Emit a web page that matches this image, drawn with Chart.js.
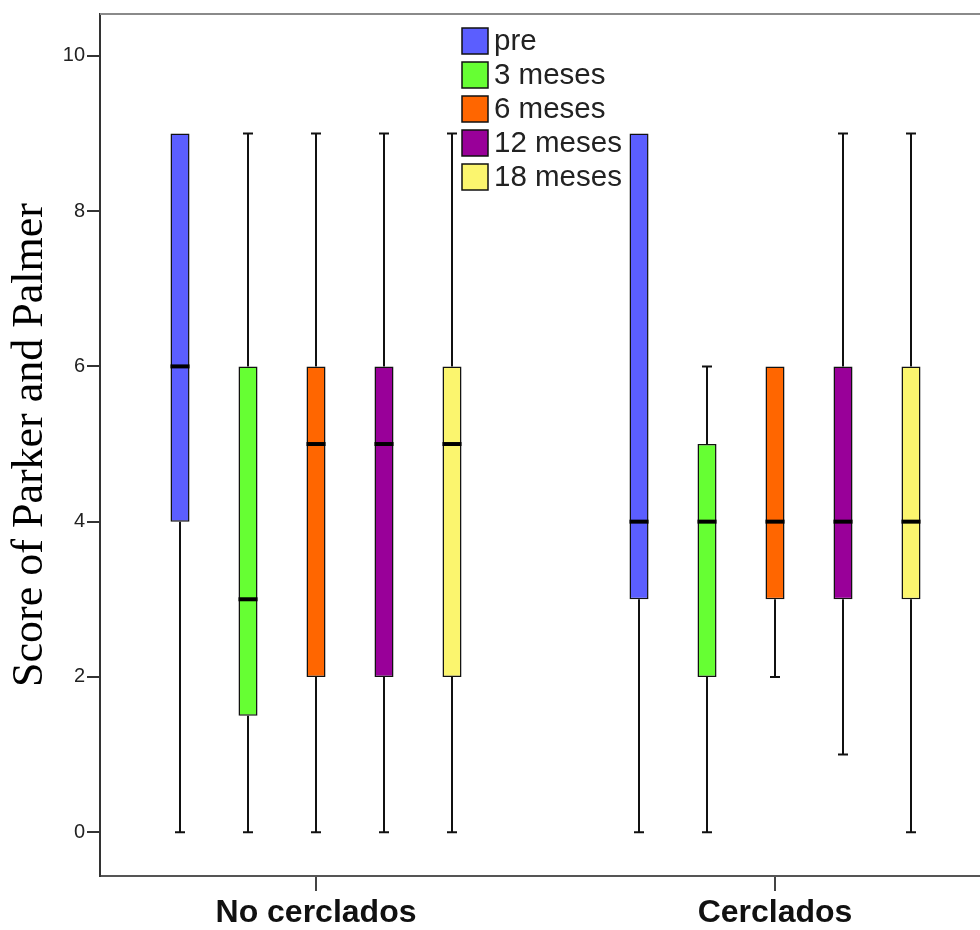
<!DOCTYPE html>
<html>
<head>
<meta charset="utf-8">
<title>Score of Parker and Palmer</title>
<script src="https://cdn.jsdelivr.net/npm/chart.js@4/dist/chart.umd.min.js"></script>
<style>
  html, body { margin: 0; padding: 0; background: #fff; overflow: hidden; }
  #wrap { width: 980px; height: 930px; }
</style>
</head>
<body>
<div id="wrap"><canvas id="box-chart" width="980" height="930"></canvas></div>
<script>
(function () {
  const groups = ["No cerclados", "Cerclados"];
  const periods = ["pre", "3 meses", "6 meses", "12 meses", "18 meses"];
  const colors = ["#5b5eff", "#66ff33", "#ff6600", "#990099", "#fbf56e"];
  const yTicks = [0, 2, 4, 6, 8, 10];

  // one array per period, values for [No cerclados, Cerclados]
  const mins =    [[0, 0],   [0, 0], [0, 2], [0, 1], [0, 0]];
  const q1s =     [[4, 3], [1.5, 2], [2, 3], [2, 3], [2, 3]];
  const medians = [[6, 4],   [3, 4], [5, 4], [5, 4], [5, 4]];
  const q3s =     [[9, 9],   [6, 5], [6, 6], [6, 6], [6, 6]];
  const maxs =    [[9, 9],   [9, 6], [9, 6], [9, 9], [9, 9]];

  const boxPlot = {
    id: "boxPlot",
    beforeDatasetsDraw(chart) {
      const ctx = chart.ctx;
      const y = chart.scales.y;
      ctx.save();
      ctx.strokeStyle = "#111";
      ctx.lineWidth = 2;
      chart.data.datasets.forEach((ds, di) => {
        chart.getDatasetMeta(di).data.forEach((bar, i) => {
          const x = Math.round(bar.x);
          const pts = [[q3s[di][i], maxs[di][i]], [q1s[di][i], mins[di][i]]];
          pts.forEach(([from, to]) => {
            if (from === to) return;
            const y0 = y.getPixelForValue(from);
            const y1 = y.getPixelForValue(to);
            ctx.beginPath();
            ctx.moveTo(x, y0);
            ctx.lineTo(x, y1);
            ctx.moveTo(x - 5, y1);
            ctx.lineTo(x + 5, y1);
            ctx.stroke();
          });
        });
      });
      ctx.restore();
    },
    afterDatasetsDraw(chart) {
      const ctx = chart.ctx;
      const y = chart.scales.y;
      ctx.save();
      ctx.strokeStyle = "#000";
      ctx.lineWidth = 4;
      chart.data.datasets.forEach((ds, di) => {
        chart.getDatasetMeta(di).data.forEach((bar, i) => {
          const ym = y.getPixelForValue(medians[di][i]);
          ctx.beginPath();
          ctx.moveTo(bar.x - bar.width / 2, ym);
          ctx.lineTo(bar.x + bar.width / 2, ym);
          ctx.stroke();
        });
      });
      // top frame line
      const a = chart.chartArea;
      ctx.strokeStyle = "#8a8a8a";
      ctx.lineWidth = 2;
      ctx.beginPath();
      ctx.moveTo(a.left, a.top);
      ctx.lineTo(a.right, a.top);
      ctx.stroke();
      ctx.restore();
    },
    afterDraw(chart) {
      // legend inside the plot
      const ctx = chart.ctx;
      const left = chart.chartArea.left + 362;
      const top = 28;
      ctx.save();
      ctx.font = "29.5px 'Liberation Sans', Arial, sans-serif";
      ctx.textBaseline = "middle";
      chart.data.datasets.forEach((ds, i) => {
        const cy = top + i * 34;
        ctx.fillStyle = ds.backgroundColor;
        ctx.fillRect(left, cy, 26, 26);
        ctx.strokeStyle = "#111";
        ctx.lineWidth = 1.5;
        ctx.strokeRect(left, cy, 26, 26);
        ctx.fillStyle = "#222";
        ctx.fillText(ds.label, left + 32, cy + 14);
      });
      ctx.restore();
    }
  };

  new Chart(document.getElementById("box-chart"), {
    type: "bar",
    data: {
      datasets: periods.map((p, di) => ({
        label: p,
        data: groups.map((g, i) => ({ x: i, y: [q1s[di][i], q3s[di][i]] })),
        backgroundColor: colors[di],
        borderColor: "#111",
        borderWidth: 1.5,
        borderSkipped: false,
        barPercentage: 0.28,
        categoryPercentage: 0.7407,
      })),
    },
    options: {
      responsive: false,
      animation: false,
      devicePixelRatio: 1,
      layout: { padding: { top: 12, right: 0, left: 0, bottom: 0 } },
      scales: {
        x: {
          type: "linear",
          offset: false,
          min: -0.4706,
          max: 1.4466,
          afterBuildTicks: (scale) => {
            scale.ticks = groups.map((g, i) => ({ value: i }));
          },
          afterFit: (scale) => { scale.height = 54; },
          ticks: {
            callback: (v) => groups[v],
            font: { family: "'Liberation Sans', Arial, sans-serif", size: 32, weight: "bold" },
            color: "#111",
            padding: 3,
            maxRotation: 0,
          },
          grid: { offset: false, drawOnChartArea: false, tickLength: 15, color: "#444", lineWidth: 2 },
          border: { color: "#555", width: 2 },
        },
        y: {
          min: -0.565,
          max: 10.54,
          afterBuildTicks: (scale) => {
            scale.ticks = yTicks.map((v) => ({ value: v }));
          },
          afterFit: (scale) => { scale.width = 100; },
          ticks: {
            font: { family: "'Liberation Sans', Arial, sans-serif", size: 20 },
            color: "#222",
            padding: 2,
          },
          grid: { drawOnChartArea: false, tickLength: 13, color: "#333", lineWidth: 2 },
          border: { color: "#333", width: 2 },
          title: {
            display: true,
            text: "Score of Parker and Palmer",
            font: { family: "'Liberation Serif', 'Times New Roman', serif", size: 44 },
            color: "#000",
            padding: { top: 4, bottom: 0 },
          },
        },
      },
      plugins: {
        legend: { display: false },
        tooltip: { enabled: false },
      },
    },
    plugins: [boxPlot],
  });
})();
</script>
</body>
</html>
